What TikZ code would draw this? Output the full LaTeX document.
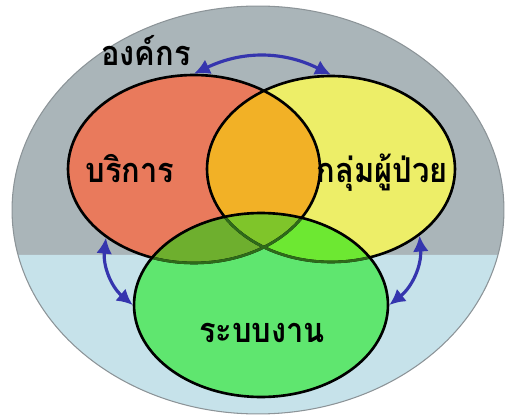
\documentclass[tikz,border=0pt]{standalone}
\usepackage{fontspec}
\newfontfamily\thaifont[Script=Thai, FakeStretch=0.9]{Loma}
\usetikzlibrary{shapes.geometric, arrows.meta}
\definecolor{orggray}{HTML}{AAB5B9}
\definecolor{orgblue}{HTML}{C6E2EA}
\definecolor{orgedge}{HTML}{8C9498}
\definecolor{servicered}{HTML}{E97A5C}
\definecolor{patientyellow}{HTML}{EDEE68}
\definecolor{overlaporange}{HTML}{F2B126}
\definecolor{systemgreen}{HTML}{5FE66F}
\definecolor{servgreen}{HTML}{6EAF2E}
\definecolor{patgreen}{HTML}{6DE832}
\definecolor{coregreen}{HTML}{7FC52A}
\definecolor{innerline}{HTML}{2E6A1A}
\definecolor{linkblue}{HTML}{3535AE}
\def\servicepath{(194,248) ellipse [x radius=2.52cm, y radius=1.88cm]}
\def\patientpath{(331,248) ellipse [x radius=2.48cm, y radius=1.86cm]}
\def\systempath{(261,112) ellipse [x radius=2.54cm, y radius=1.84cm]}
\tikzstyle{vennset} = [ellipse, inner sep=0pt, draw=black, line width=1.5pt]
\tikzstyle{linkarrow} = [line width=1.8pt, draw=linkblue, {Latex[length=9pt,width=9pt]}-{Latex[length=9pt,width=9pt]}]
\tikzstyle{setname} = [font=\thaifont\bfseries\fontsize{19.5}{24}\selectfont, text=black, anchor=base, inner sep=0pt]

\begin{document}
\begin{tikzpicture}[x=0.02cm, y=0.02cm]
    \useasboundingbox (0,0) rectangle (508,417);
    % organisation background
    \node (org) at (258,207) [ellipse, inner sep=0pt, fill=orggray, minimum width=9.84cm, minimum height=8.16cm] {};
    \fill[orgblue] (258,207) ++(192.7:4.92cm and 4.08cm)
        arc[start angle=192.7, end angle=347.3, x radius=4.92cm, y radius=4.08cm] -- cycle;
    \draw[orgedge, line width=0.6pt] (258,207) ellipse [x radius=4.92cm, y radius=4.08cm];

    % set fills
    \fill[servicered] \servicepath;
    \fill[patientyellow] \patientpath;
    \begin{scope}
        \clip \servicepath;
        \fill[overlaporange] \patientpath;
    \end{scope}
    \fill[systemgreen] \systempath;
    \begin{scope}
        \clip \systempath;
        \fill[servgreen] \servicepath;
        \fill[patgreen] \patientpath;
        \clip \servicepath;
        \fill[coregreen] \patientpath;
    \end{scope}

    % set borders
    \node (service) at (194,248) [vennset, minimum width=5.04cm, minimum height=3.76cm] {};
    \node (patients) at (331,248) [vennset, minimum width=4.96cm, minimum height=3.72cm] {};
    \begin{scope}
        \clip \systempath;
        \draw[innerline, line width=1.5pt] \servicepath;
        \draw[innerline, line width=1.5pt] \patientpath;
    \end{scope}
    \node (system) at (261,112) [vennset, minimum width=5.08cm, minimum height=3.68cm] {};

    % labels
    \node (orgname) at (146,352) [setname] {องค์กร};
    \node (servicename) at (130,235) [setname] {บริการ};
    \node (patientname) at (382,235) [setname] {กลุ่มผู้ป่วย};
    \node (systemname) at (262,75) [setname] {ระบบงาน};

    % links
    \draw [linkarrow] (service.north) to[bend left=26] (patients.north);
    \draw [linkarrow] (service.218) to[bend right=28] (system.west);
    \draw [linkarrow] (patients.323) to[bend left=28] (system.east);
\end{tikzpicture}
\end{document}
